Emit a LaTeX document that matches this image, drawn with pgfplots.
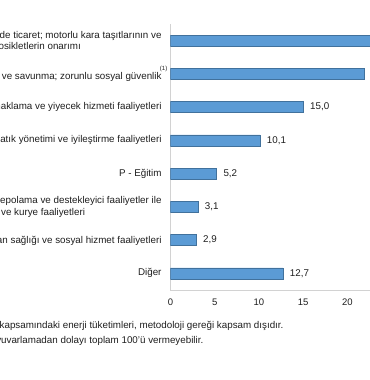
\documentclass[border=0pt]{standalone}
\usepackage{pgfplots}
\pgfplotsset{compat=1.18}
\usepackage{fontspec}
\setmainfont{Liberation Sans}
\definecolor{barblue}{RGB}{91,155,213}
\definecolor{baredge}{RGB}{65,113,156}
\definecolor{axisgray}{RGB}{210,210,210}
\definecolor{txt}{RGB}{30,30,30}
\begin{document}
\begin{tikzpicture}
\useasboundingbox (0,0) rectangle (370bp,380bp);
\clip (0,0) rectangle (370bp,380bp);
\begin{axis}[
  at={(170.5bp,90bp)}, anchor=south west,
  scale only axis, width=265.5bp, height=266bp,
  xbar, bar width=11bp,
  xmin=0, xmax=30, ymin=-0.5, ymax=7.5,
  axis x line*=bottom, axis y line*=left,
  axis line style={axisgray, line width=0.8bp, -},
  xtick={0,5,...,30}, ytick={0,...,7},
  major tick length=0pt,
  /pgf/number format/assume math mode=true,
  xticklabel style={inner sep=0pt, yshift=-9bp, font=\fontsize{9.5bp}{11bp}\selectfont, text=txt},
  yticklabel style={inner sep=0pt, anchor=east, xshift=-8.8bp, align=right, font=\fontsize{9.8bp}{11.7bp}\selectfont, text=txt},
  yticklabels={
    {Diğer},
    {Q - İnsan sağlığı ve sosyal hizmet faaliyetleri},
    {H - Ulaştırma ve depolama ve destekleyici faaliyetler ile\\posta ve kurye faaliyetleri\hspace*{76.5bp}},
    {P - Eğitim},
    {E - Su temini; kanalizasyon, atık yönetimi ve iyileştirme faaliyetleri},
    {I - Konaklama ve yiyecek hizmeti faaliyetleri},
    {O - Kamu yönetimi ve savunma; zorunlu sosyal güvenlik\rlap{\hspace{-1.5bp}\raisebox{8.5bp}{\fontsize{6bp}{6bp}\selectfont(1)}}},
    {G - Toptan ve perakende ticaret; motorlu kara taşıtlarının ve\\motosikletlerin onarımı\hspace*{80.7bp}}
  },
  nodes near coords={\pgfmathprintnumber[fixed,fixed zerofill,precision=1,use comma,assume math mode=true]{\pgfplotspointmeta}},
  nodes near coords style={anchor=west, inner sep=0pt, xshift=6.7bp, font=\fontsize{9.8bp}{11bp}\selectfont, text=txt},
]
\addplot[fill=barblue, draw=baredge, line width=0.6bp] coordinates {
  (12.7,0) (2.9,1) (3.1,2) (5.2,3) (10.1,4) (15.0,5) (21.9,6) (29.1,7)
};
\end{axis}
\node[anchor=base west, inner sep=0pt, text=txt, font=\fontsize{9.8bp}{11bp}\selectfont] at (-0.5bp,51.5bp)
  {\llap{(1) O - Kamu yönetimi ve savunma; zorunlu sosyal güvenlik }kapsamındaki enerji tüketimleri, metodoloji gereği kapsam dışıdır.};
\node[anchor=base west, inner sep=0pt, text=txt, font=\fontsize{9.8bp}{11bp}\selectfont] at (1bp,36.5bp)
  {\llap{Rakamlar y}uvarlamadan dolayı toplam 100'ü vermeyebilir.};
\end{tikzpicture}
\end{document}
